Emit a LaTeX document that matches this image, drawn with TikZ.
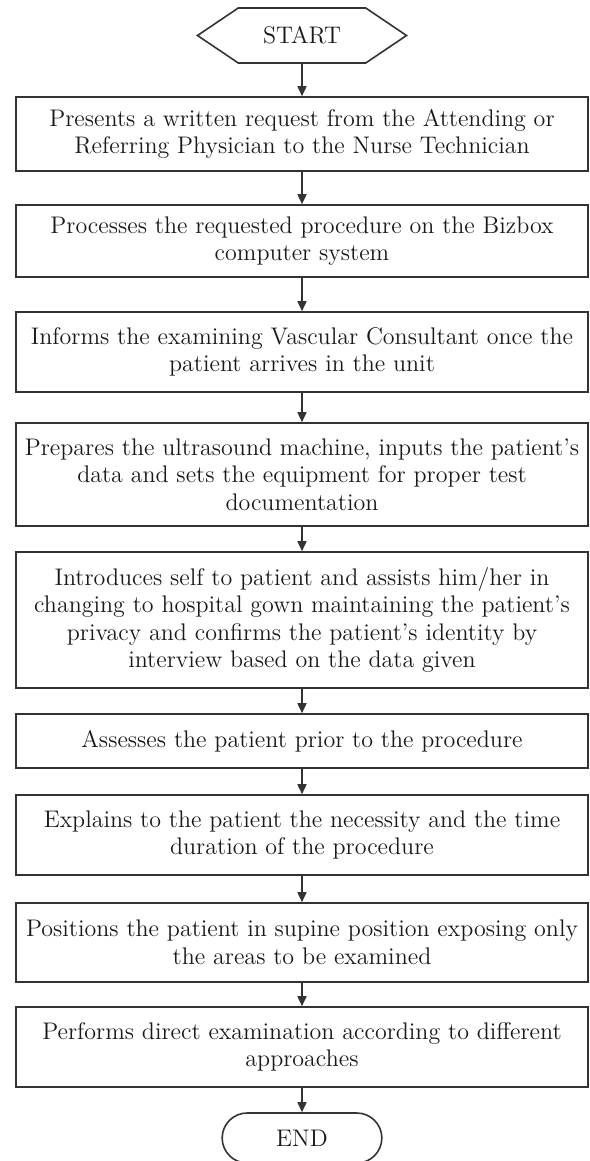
\documentclass[tikz,border=0pt]{standalone}
\usepackage{tikz}
\usetikzlibrary{shapes.symbols,shapes.misc,arrows.meta}

\begin{document}
\begin{tikzpicture}[x=0.5pt,y=-0.5pt]
   \tikzstyle{every node}=[font=\fontsize{12}{13.8}\selectfont, text=black!90, align=center]
   \tikzstyle{stepbox}=[draw=black!80, line width=0.8pt, minimum width=286pt, inner sep=1pt]
   \tikzstyle{startnode}=[draw=black!80, line width=0.8pt, shape=signal, signal to=east and west, signal pointer angle=68, minimum width=104.5pt, minimum height=27.5pt, inner sep=0pt]
   \tikzstyle{endnode}=[draw=black!80, line width=0.8pt, rounded rectangle, minimum width=86.5pt, minimum height=25pt]
   \tikzstyle{flow}=[draw=black!80, line width=0.8pt, -{Triangle[length=5pt,width=4.5pt]}]

\useasboundingbox (0,0) rectangle (589,1161);

\node[startnode] (start) at (302,35.5) {START};
\node[stepbox, minimum height=37pt] (present) at (302,134)
    {Presents a written request from the Attending or\\Referring Physician to the Nurse Technician};
\node[stepbox, minimum height=36pt] (process) at (302,241)
    {Processes the requested procedure on the Bizbox\\computer system};
\node[stepbox, minimum height=40pt] (inform) at (302,352)
    {Informs the examining Vascular Consultant once the\\patient arrives in the unit};
\node[stepbox, minimum height=51.5pt] (prepare) at (302,474.5)
    {Prepares the ultrasound machine, inputs the patient's\\data and sets the equipment for proper test\\documentation};
\node[stepbox, minimum height=68pt] (introduce) at (302,620)
    {Introduces self to patient and assists him/her in\\changing to hospital gown maintaining the patient's\\privacy and confirms the patient's identity by\\interview based on the data given};
\node[stepbox, minimum height=27pt] (assess) at (302,741)
    {Assesses the patient prior to the procedure};
\node[stepbox, minimum height=40pt] (explain) at (302,835)
    {Explains to the patient the necessity and the time\\duration of the procedure};
\node[stepbox, minimum height=39.5pt] (position) at (302,942.5)
    {Positions the patient in supine position exposing only\\the areas to be examined};
\node[stepbox, minimum height=40pt] (perform) at (302,1047)
    {Performs direct examination according to different\\approaches};
\node[endnode] (finish) at (302,1138) {END};

\foreach \a/\b in {start/present, present/process, process/inform, inform/prepare,
    prepare/introduce, introduce/assess, assess/explain, explain/position,
    position/perform, perform/finish}
    \draw[flow] (\a) -- (\b);

\end{tikzpicture}
\end{document}
